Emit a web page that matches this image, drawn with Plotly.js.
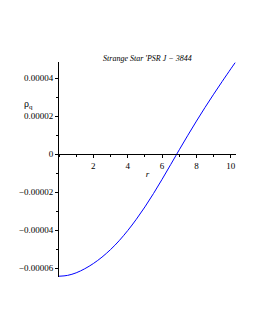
<!DOCTYPE html>
<html><head><meta charset="utf-8">
<script src="https://cdn.plot.ly/plotly-3.0.1.min.js"></script>
<style>html,body{margin:0;padding:0;background:#fff}#c{width:255px;height:330px}</style>
</head><body><div id="c"></div>
<script>
const r = [0,0.5,1,1.5,2,2.5,3,3.5,4,4.5,5,5.5,6,6.5,7,7.5,8,8.5,9,9.5,10,10.25];
const rhoQ = [-6.42e-5,-6.375e-5,-6.24e-5,-6.025e-5,-5.75e-5,-5.415e-5,-5.015e-5,-4.55e-5,-4.015e-5,-3.42e-5,-2.77e-5,-2.065e-5,-1.315e-5,-0.54e-5,0.24e-5,1.005e-5,1.75e-5,2.47e-5,3.165e-5,3.84e-5,4.50e-5,4.825e-5];
const yTickVals = [-0.00006,-0.00004,-0.00002,0,0.00002,0.00004];
const yTickText = ['\u22120.00006','\u22120.00004','\u22120.00002','0','0.00002','0.00004'];
const xTickVals = [2,4,6,8,10];
const xTickText = ['2','4','6','8','10'];
const titleText = "Strange Star 'PSR J \u2212 3844";

const yMin = -6.46e-5, yMax = 4.86e-5;
const font = {family:'Liberation Serif, serif', size:9, color:'#000'};
Plotly.newPlot('c', [{
  x: r, y: rhoQ, type:'scatter', mode:'lines', line:{color:'#0000ff', width:1, shape:'spline'}, hoverinfo:'skip'
}], {
  width:255, height:330,
  margin:{l:59, r:19, t:62, b:53},
  paper_bgcolor:'#fff', plot_bgcolor:'#fff',
  showlegend:false,
  font: font,
  title:{text:titleText, font:{family:'Liberation Serif, serif', size:8, style:'italic', color:'#000'}, x:0.578, xanchor:'center', y:1-58/330, yanchor:'middle', yref:'container'},
  xaxis:{range:[0,10.3], anchor:'free', position:(0-yMin)/(yMax-yMin),
    showline:true, linecolor:'#000', linewidth:1, showgrid:false, zeroline:false,
    tickmode:'array', tickvals:xTickVals, ticktext:xTickText, ticks:'outside', ticklen:3, tickcolor:'#000',
    minor:{tickmode:'linear', tick0:0, dtick:1, ticklen:2, tickcolor:'#000', ticks:'outside'},
    tickfont:font,
    title:{text:'<i>r</i>', font:font, standoff:0}},
  yaxis:{range:[yMin,yMax], showline:true, linecolor:'#000', linewidth:1, showgrid:false, zeroline:false,
    tickmode:'array', tickvals:yTickVals, ticktext:yTickText, ticks:'outside', ticklen:3, tickcolor:'#000',
    minor:{tickmode:'linear', tick0:0, dtick:1e-5, ticklen:2, tickcolor:'#000', ticks:'outside'},
    tickfont:font},
  annotations:[{text:'\u03c1<sub>q</sub>', xref:'paper', yref:'paper', x:-0.135, y:(2.6e-5-yMin)/(yMax-yMin), xanchor:'right', yanchor:'middle', showarrow:false, font:{family:'Liberation Serif, serif', size:10, color:'#000'}}]
}, {displayModeBar:false, staticPlot:true});
</script></body></html>
